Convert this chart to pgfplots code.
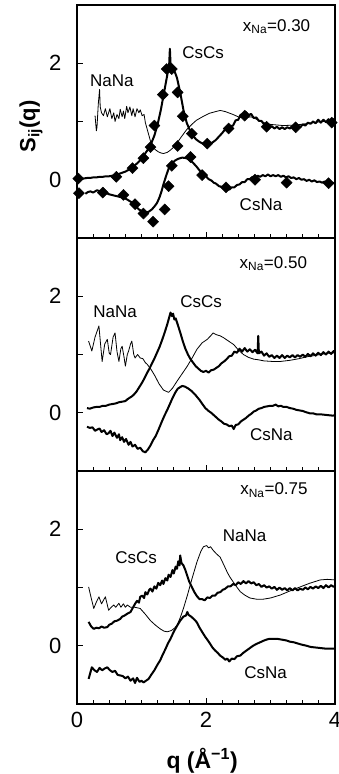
\documentclass[border=0pt]{standalone}
\usepackage{fontspec}
\setmainfont{Liberation Sans}
\usepackage{pgfplots}
\pgfplotsset{compat=1.18}
\pgfplotsset{
  panel/.style={
    width=258pt, height=233pt, scale only axis,
    xmin=0, xmax=4, ymin=-1, ymax=3,
    xtick={0,2,4}, minor x tick num=7,
    ytick={0,1,2}, yticklabels={0,,2},
    tick align=inside, xtick pos=bottom, ytick pos=left,
    major tick length=6pt, minor tick length=4pt,
    axis line style={line width=1.1pt},
    every tick/.style={black, line width=0.9pt},
    ticklabel style={font=\fontsize{22}{24}\selectfont},
    yticklabel style={xshift=-12pt},
    xticklabel style={yshift=-5pt},
    /pgf/number format/assume math mode=true,
    anchor=south west,
  },
  thk/.style={black, line width=2pt, no marks, line join=round},
  thn/.style={black, line width=0.8pt, no marks, line join=round},
  dia/.style={only marks, mark=square*, mark size=3.9pt, mark options={rotate=45, fill=black}},
}
\tikzset{lab/.style={anchor=base west, inner sep=0pt, font=\fontsize{17}{19}\selectfont}}
\begin{document}
\begin{tikzpicture}
% ---------------- panel 1: x_Na = 0.30 ----------------
\begin{axis}[panel, at={(0pt,466pt)}, xticklabels={,,},
  ylabel={\textbf{S\textsubscript{ij}(q)}},
  ylabel style={at={(axis description cs:-0.178,0.48)}, anchor=center, font=\fontsize{22}{24}\selectfont}]
% NaNa
\addplot[thn] coordinates {
(0.28,1.10)(0.30,0.84)(0.31,0.90)(0.33,1.30)(0.35,1.55)(0.36,1.25)(0.38,1.15)(0.41,1.10)(0.44,1.22)(0.47,1.08)(0.51,1.22)(0.54,1.05)(0.57,1.15)(0.59,1.00)(0.62,1.12)(0.65,1.05)(0.67,1.21)(0.70,1.08)(0.72,1.18)(0.74,1.05)(0.77,1.26)(0.79,1.15)(0.82,1.25)(0.85,1.10)(0.87,1.22)(0.90,1.08)(0.93,1.22)(0.96,1.15)(0.98,1.20)(1.01,1.10)(1.04,1.12)(1.06,0.98)(1.08,0.90)(1.11,0.78)(1.14,0.66)(1.18,0.56)(1.21,0.52)(1.26,0.48)(1.30,0.46)(1.34,0.45)(1.40,0.47)(1.45,0.51)(1.50,0.56)(1.55,0.63)(1.62,0.74)(1.70,0.86)(1.78,0.95)(1.85,1.02)(1.96,1.09)(2.05,1.14)(2.15,1.17)(2.22,1.19)(2.30,1.17)(2.42,1.12)(2.50,1.08)(2.58,1.06)(2.70,1.08)(2.80,1.03)(2.90,0.98)(3.00,0.95)(3.20,0.93)(3.40,0.94)(3.60,0.97)(3.80,1.00)(4.00,1.01)};
% CsCs
\addplot[thk] coordinates {
(0.0,0.02)(0.05,0.03)(0.1,0.02)(0.15,0.03)(0.2,0.03)(0.25,0.04)(0.3,0.04)(0.35,0.05)(0.4,0.05)(0.45,0.06)(0.5,0.06)(0.55,0.07)(0.6,0.08)(0.65,0.1)(0.7,0.12)(0.75,0.14)(0.8,0.17)(0.85,0.21)(0.9,0.25)(0.95,0.3)(1.0,0.36)(1.05,0.44)(1.1,0.52)(1.15,0.62)(1.2,0.76)(1.25,0.95)(1.3,1.2)(1.35,1.5)(1.4,1.8)(1.42,1.92)(1.43,2.0)(1.44,2.25)(1.45,2.0)(1.47,1.96)(1.5,1.9)(1.55,1.75)(1.6,1.5)(1.65,1.2)(1.7,0.98)(1.75,0.85)(1.8,0.75)(1.85,0.69)(1.9,0.65)(1.95,0.62)(2.0,0.6)(2.05,0.61)(2.1,0.64)(2.15,0.68)(2.2,0.74)(2.25,0.8)
(2.30,0.87)(2.34,0.86)(2.38,0.92)(2.42,0.93)(2.46,1.02)(2.50,1.03)(2.54,1.12)(2.58,1.10)(2.62,1.16)(2.66,1.11)(2.70,1.13)(2.74,1.06)(2.78,1.07)(2.82,1.01)(2.86,1.01)(2.90,0.95)(2.94,0.96)(2.98,0.90)(3.02,0.92)(3.06,0.88)(3.10,0.91)(3.14,0.87)(3.18,0.90)(3.22,0.87)(3.26,0.90)(3.30,0.88)(3.34,0.92)(3.38,0.89)(3.42,0.93)(3.46,0.90)(3.50,0.95)(3.54,0.93)(3.58,0.98)(3.62,0.96)(3.66,1.00)(3.70,0.97)(3.74,1.03)(3.78,0.98)(3.82,1.03)(3.86,0.99)(3.90,1.04)(3.94,0.98)(3.98,1.04)(4.00,1.01)};
% CsNa
\addplot[thk] coordinates {
(0.13,-0.24)(0.17,-0.21)(0.21,-0.2)(0.25,-0.22)(0.31,-0.18)(0.36,-0.2)(0.4,-0.22)(0.45,-0.23)(0.5,-0.25)(0.57,-0.27)(0.65,-0.29)(0.72,-0.31)(0.78,-0.34)(0.85,-0.39)(0.9,-0.44)(0.96,-0.51)(1.02,-0.55)(1.07,-0.56)(1.11,-0.55)(1.16,-0.51)(1.2,-0.46)(1.24,-0.4)(1.28,-0.3)(1.31,-0.2)(1.34,-0.08)(1.38,0.06)(1.42,0.19)(1.47,0.28)(1.52,0.33)(1.57,0.36)(1.63,0.38)(1.7,0.37)(1.75,0.34)(1.8,0.29)(1.85,0.23)(1.9,0.16)(1.95,0.1)(2.0,0.06)(2.04,0.01)(2.08,-0.01)(2.12,-0.05)(2.16,-0.07)(2.2,-0.11)(2.24,-0.12)(2.28,-0.16)(2.32,-0.15)(2.36,-0.17)(2.4,-0.13)(2.44,-0.13)(2.48,-0.09)(2.52,-0.08)(2.56,-0.04)(2.6,-0.04)(2.64,0.01)(2.68,0.01)(2.72,0.05)(2.76,0.03)(2.8,0.07)(2.84,0.05)(2.88,0.08)(2.92,0.06)(2.96,0.09)(3.0,0.06)(3.04,0.08)(3.08,0.06)(3.12,0.08)(3.16,0.05)(3.2,0.07)(3.24,0.04)(3.28,0.06)(3.32,0.03)(3.36,0.04)(3.4,0.01)(3.44,0.03)(3.48,0.0)(3.52,0.01)(3.56,-0.02)(3.6,0.0)(3.64,-0.03)(3.68,-0.01)(3.72,-0.04)(3.76,-0.03)(3.8,-0.05)(3.84,-0.03)(3.88,-0.06)(3.92,-0.04)(3.96,-0.06)(4.0,-0.05)};
% model diamonds CsCs
\addplot[dia] coordinates {
(0.02,0.02)(0.61,0.05)(0.86,0.2)(1.03,0.37)(1.14,0.56)(1.2,0.93)(1.33,1.46)(1.39,1.9)(1.47,1.9)(1.56,1.5)(1.64,1.09)(1.78,0.79)(2.02,0.62)(2.35,0.88)(2.6,1.1)(2.94,0.91)(3.39,0.9)(3.95,0.98)};
% model diamonds CsNa
\addplot[dia] coordinates {
(0.03,-0.23)(0.4,-0.22)(0.72,-0.26)(0.9,-0.42)(1.03,-0.58)(1.18,-0.72)(1.36,-0.51)(1.42,-0.11)(1.47,0.24)(1.56,0.58)(1.76,0.39)(1.94,0.08)(2.31,-0.13)(2.76,0.0)(3.25,-0.05)(3.9,-0.06)};
\node[lab] at (axis cs:2.57,2.55) {x\textsubscript{Na}=0.30};
\node[lab] at (axis cs:1.63,2.08) {CsCs};
\node[lab] at (axis cs:0.20,1.60) {NaNa};
\node[lab] at (axis cs:2.52,-0.53) {CsNa};
\end{axis}
% ---------------- panel 2: x_Na = 0.50 ----------------
\begin{axis}[panel, at={(0pt,233pt)}, xticklabels={,,}]
\addplot[thn] coordinates {
(0.18,1.23)(0.23,1.06)(0.28,1.3)(0.34,1.49)(0.37,1.12)(0.39,0.88)(0.43,1.18)(0.47,1.26)(0.5,1.02)(0.52,1.0)(0.56,1.3)(0.59,1.37)(0.62,1.05)(0.65,0.88)(0.68,1.1)(0.7,1.14)(0.73,0.95)(0.75,0.8)(0.78,1.0)(0.8,1.06)(0.83,1.18)(0.85,1.23)(0.88,1.0)(0.9,0.94)(0.94,1.0)(0.98,0.94)(1.02,0.93)(1.06,0.86)(1.09,0.83)(1.15,0.74)(1.21,0.63)(1.27,0.5)(1.34,0.39)(1.42,0.35)(1.48,0.42)(1.55,0.54)(1.63,0.67)(1.71,0.8)(1.79,0.95)(1.86,1.09)(1.94,1.2)(2.02,1.26)(2.08,1.33)(2.11,1.37)(2.16,1.34)(2.22,1.32)(2.27,1.29)(2.35,1.23)(2.43,1.17)(2.5,1.08)(2.58,1.0)(2.66,0.95)(2.74,0.92)(2.81,0.91)(2.9,0.89)(3.04,0.88)(3.15,0.88)(3.3,0.9)(3.45,0.93)(3.56,0.96)(3.67,0.98)(3.77,1.0)(3.88,1.02)(4.0,1.03)};
\addplot[thk] coordinates {
(0.155,0.08)(0.2,0.07)(0.25,0.09)(0.3,0.1)(0.35,0.1)(0.4,0.12)(0.45,0.12)(0.5,0.14)(0.55,0.15)(0.6,0.16)(0.65,0.18)(0.7,0.19)(0.75,0.2)(0.78,0.23)(0.82,0.26)(0.85,0.28)(0.88,0.31)(0.92,0.36)(0.96,0.43)(1.0,0.5)(1.04,0.58)(1.08,0.67)(1.12,0.75)(1.16,0.84)(1.2,0.93)(1.24,1.03)(1.28,1.13)(1.32,1.25)(1.36,1.38)(1.4,1.52)(1.43,1.64)(1.45,1.72)(1.47,1.66)(1.49,1.7)(1.51,1.6)(1.53,1.62)(1.56,1.52)(1.6,1.38)(1.64,1.23)(1.68,1.1)(1.72,1.0)(1.76,0.92)(1.8,0.86)(1.84,0.8)(1.88,0.76)(1.92,0.72)(1.96,0.7)(2.0,0.72)(2.04,0.69)(2.08,0.73)(2.12,0.74)(2.16,0.77)(2.2,0.8)(2.24,0.85)(2.28,0.88)(2.32,0.92)(2.36,0.97)(2.4,0.98)(2.44,1.05)(2.48,1.03)(2.52,1.10)(2.56,1.05)(2.6,1.11)(2.64,1.05)(2.68,1.09)(2.72,1.04)(2.76,1.08)(2.8,1.02)(2.81,1.32)(2.82,1.02)(2.86,1.05)(2.9,0.98)(2.94,1.02)(2.98,0.96)(3.02,0.99)(3.06,0.94)(3.1,0.98)(3.14,0.94)(3.18,0.99)(3.22,0.94)(3.26,0.98)(3.3,0.95)(3.34,0.99)(3.38,0.95)(3.42,0.99)(3.46,0.96)(3.5,1.0)(3.54,0.96)(3.58,1.01)(3.62,0.97)(3.66,1.02)(3.7,0.98)(3.74,1.03)(3.78,0.99)(3.82,1.04)(3.86,1.0)(3.9,1.05)(3.94,1.01)(3.98,1.06)(4.0,1.03)};
\addplot[thk] coordinates {
(0.155,-0.24)(0.2,-0.26)(0.24,-0.25)(0.28,-0.31)(0.31,-0.29)(0.35,-0.27)(0.38,-0.33)(0.42,-0.3)(0.46,-0.37)(0.49,-0.35)(0.52,-0.31)(0.55,-0.4)(0.58,-0.34)(0.62,-0.43)(0.65,-0.37)(0.67,-0.47)(0.7,-0.42)(0.73,-0.5)(0.76,-0.45)(0.8,-0.55)(0.83,-0.5)(0.86,-0.58)(0.9,-0.55)(0.94,-0.62)(0.98,-0.6)(1.02,-0.66)(1.06,-0.68)(1.1,-0.63)(1.14,-0.56)(1.18,-0.47)(1.22,-0.4)(1.26,-0.3)(1.29,-0.22)(1.32,-0.14)(1.36,-0.04)(1.4,0.05)(1.44,0.15)(1.48,0.25)(1.52,0.34)(1.56,0.41)(1.6,0.44)(1.63,0.46)(1.67,0.45)(1.72,0.42)(1.78,0.37)(1.84,0.3)(1.9,0.22)(1.95,0.14)(1.99,0.08)(2.04,0.03)(2.08,0.0)(2.12,-0.04)(2.16,-0.08)(2.2,-0.12)(2.24,-0.15)(2.28,-0.19)(2.32,-0.2)(2.36,-0.23)(2.4,-0.22)(2.43,-0.28)(2.46,-0.21)(2.5,-0.2)(2.54,-0.15)(2.58,-0.12)(2.62,-0.09)(2.66,-0.05)(2.7,-0.02)(2.74,0.02)(2.78,0.04)(2.82,0.07)(2.86,0.08)(2.9,0.1)(2.95,0.11)(3.0,0.12)(3.04,0.12)(3.08,0.14)(3.12,0.11)(3.16,0.12)(3.2,0.1)(3.25,0.1)(3.3,0.08)(3.35,0.07)(3.4,0.05)(3.45,0.04)(3.5,0.03)(3.55,0.01)(3.61,-0.01)(3.66,-0.01)(3.72,-0.03)(3.8,-0.03)(3.88,-0.04)(3.97,-0.05)(4.0,-0.04)};
\node[lab] at (axis cs:2.52,2.48) {x\textsubscript{Na}=0.50};
\node[lab] at (axis cs:0.25,1.63) {NaNa};
\node[lab] at (axis cs:1.60,1.80) {CsCs};
\node[lab] at (axis cs:2.68,-0.48) {CsNa};
\end{axis}
% ---------------- panel 3: x_Na = 0.75 ----------------
\begin{axis}[panel, at={(0pt,0pt)},
  xlabel={\textbf{q (Å\textsuperscript{−1})}},
  xlabel style={at={(axis description cs:0.485,-0.245)}, anchor=center, font=\fontsize{23}{25}\selectfont}]
\addplot[thn] coordinates {
(0.18,1.01)(0.22,0.82)(0.26,0.64)(0.3,0.75)(0.34,0.84)(0.38,0.72)(0.41,0.78)(0.44,0.84)(0.49,0.61)(0.53,0.66)(0.57,0.7)(0.6,0.66)(0.65,0.73)(0.68,0.66)(0.72,0.72)(0.75,0.66)(0.78,0.7)(0.83,0.66)(0.9,0.66)(0.98,0.64)(1.06,0.54)(1.14,0.43)(1.22,0.35)(1.29,0.29)(1.35,0.25)(1.4,0.24)(1.46,0.26)(1.51,0.3)(1.55,0.35)(1.6,0.48)(1.65,0.64)(1.71,0.86)(1.78,1.14)(1.86,1.44)(1.92,1.62)(1.96,1.7)(2.01,1.72)(2.04,1.68)(2.07,1.7)(2.11,1.64)(2.16,1.58)(2.22,1.52)(2.28,1.38)(2.33,1.26)(2.37,1.18)(2.45,1.05)(2.53,0.93)(2.6,0.87)(2.68,0.82)(2.78,0.8)(2.89,0.8)(3.0,0.82)(3.15,0.87)(3.3,0.94)(3.46,1.01)(3.6,1.07)(3.77,1.13)(3.88,1.14)(4.0,1.13)};
\addplot[thk] coordinates {
(0.18,0.41)(0.22,0.33)(0.26,0.29)(0.3,0.31)(0.34,0.3)(0.38,0.33)(0.42,0.31)(0.47,0.32)(0.5,0.36)(0.54,0.38)(0.58,0.42)(0.62,0.43)(0.67,0.46)(0.7,0.5)(0.74,0.52)(0.78,0.55)(0.83,0.58)(0.86,0.64)(0.9,0.72)(0.93,0.77)(0.96,0.74)(0.98,0.84)(1.01,0.86)(1.04,0.82)(1.06,0.92)(1.09,0.88)(1.12,0.96)(1.14,0.98)(1.17,0.93)(1.2,1.02)(1.23,0.98)(1.26,1.08)(1.29,1.04)(1.32,1.12)(1.34,1.06)(1.37,1.16)(1.4,1.12)(1.42,1.22)(1.45,1.18)(1.48,1.3)(1.5,1.24)(1.53,1.36)(1.55,1.32)(1.57,1.45)(1.59,1.38)(1.6,1.55)(1.62,1.42)(1.65,1.38)(1.68,1.3)(1.71,1.2)(1.74,1.1)(1.78,1.01)(1.82,0.92)(1.86,0.85)(1.9,0.8)(1.94,0.8)(1.98,0.78)(2.02,0.83)(2.06,0.82)(2.1,0.86)(2.14,0.86)(2.18,0.91)(2.22,0.92)(2.26,0.96)(2.3,0.98)(2.34,1.02)(2.38,1.02)(2.42,1.06)(2.46,1.04)(2.5,1.09)(2.54,1.06)(2.58,1.11)(2.62,1.07)(2.66,1.11)(2.7,1.07)(2.74,1.09)(2.78,1.04)(2.82,1.06)(2.86,1.01)(2.9,1.04)(2.94,1.0)(2.98,1.02)(3.02,0.98)(3.06,1.01)(3.1,0.96)(3.14,1.0)(3.18,0.96)(3.22,0.99)(3.26,0.95)(3.3,0.99)(3.34,0.95)(3.38,0.99)(3.42,0.95)(3.46,0.98)(3.5,0.96)(3.54,1.0)(3.58,0.97)(3.62,1.01)(3.66,0.98)(3.7,1.02)(3.74,0.99)(3.78,1.03)(3.82,0.99)(3.86,1.04)(3.9,1.0)(3.94,1.04)(3.98,1.01)(4.0,1.03)};
\addplot[thk] coordinates {
(0.18,-0.57)(0.21,-0.45)(0.23,-0.37)(0.27,-0.42)(0.31,-0.45)(0.35,-0.38)(0.39,-0.42)(0.43,-0.39)(0.47,-0.37)(0.51,-0.42)(0.55,-0.45)(0.59,-0.43)(0.63,-0.5)(0.67,-0.51)(0.71,-0.52)(0.75,-0.56)(0.79,-0.53)(0.83,-0.6)(0.87,-0.56)(0.9,-0.64)(0.93,-0.55)(0.97,-0.62)(1.0,-0.6)(1.03,-0.63)(1.07,-0.6)(1.11,-0.57)(1.15,-0.5)(1.2,-0.42)(1.25,-0.32)(1.29,-0.25)(1.33,-0.15)(1.37,-0.06)(1.41,0.04)(1.45,0.12)(1.5,0.24)(1.55,0.34)(1.6,0.43)(1.65,0.5)(1.69,0.52)(1.71,0.58)(1.73,0.53)(1.77,0.5)(1.82,0.45)(1.86,0.4)(1.9,0.31)(1.95,0.22)(1.99,0.15)(2.03,0.09)(2.06,0.04)(2.1,-0.03)(2.14,-0.08)(2.18,-0.12)(2.22,-0.17)(2.26,-0.2)(2.3,-0.24)(2.33,-0.22)(2.36,-0.27)(2.4,-0.22)(2.44,-0.23)(2.48,-0.18)(2.53,-0.17)(2.58,-0.12)(2.63,-0.08)(2.68,-0.04)(2.73,0.0)(2.78,0.03)(2.84,0.06)(2.9,0.09)(2.95,0.11)(2.99,0.12)(3.05,0.12)(3.1,0.12)(3.15,0.11)(3.2,0.1)(3.25,0.09)(3.3,0.07)(3.36,0.06)(3.42,0.04)(3.48,0.02)(3.56,0.0)(3.62,-0.02)(3.7,-0.03)(3.78,-0.04)(3.86,-0.05)(3.97,-0.05)(4.0,-0.05)};
\node[lab] at (axis cs:2.53,2.59) {x\textsubscript{Na}=0.75};
\node[lab] at (axis cs:0.59,1.41) {CsCs};
\node[lab] at (axis cs:2.26,1.79) {NaNa};
\node[lab] at (axis cs:2.59,-0.57) {CsNa};
\end{axis}
\pgfresetboundingbox
\path[use as bounding box] (-77pt,-70pt) rectangle (262pt,704pt);
\end{tikzpicture}
\end{document}
